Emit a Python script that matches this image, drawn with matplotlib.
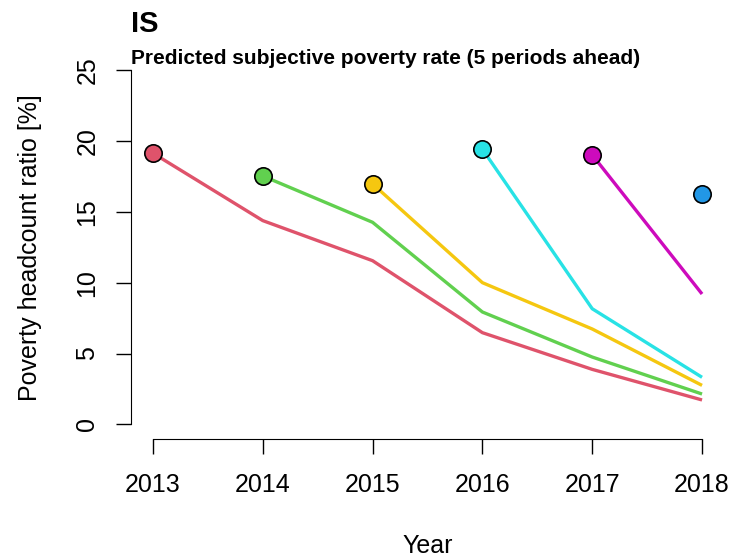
import matplotlib
matplotlib.use("Agg")
import matplotlib.pyplot as plt

plt.rcParams['font.family'] = ['Liberation Sans', 'DejaVu Sans']

# forecast vintages: start year, values for start..2018
start_years = [2013, 2014, 2015, 2016, 2017, 2018]
red = [19.14, 14.38, 11.55, 6.47, 3.88, 1.72]
green = [17.53, 14.26, 7.93, 4.75, 2.14]
yellow = [16.97, 10.0, 6.73, 2.75]
cyan = [19.42, 8.16, 3.32]
magenta = [19.02, 9.2]
blue = [16.29]
series = [red, green, yellow, cyan, magenta, blue]
colors = ['#DF536B', '#61D04F', '#F5C710', '#28E2E5', '#CD0BBC', '#2297E6']

years = [2013, 2014, 2015, 2016, 2017, 2018]
yticks = [0, 5, 10, 15, 20, 25]

fig = plt.figure(figsize=(7.31, 5.58), dpi=100)
ax = fig.add_axes([131 / 731, 1 - 438.5 / 558, 593 / 731, 382.5 / 558])

for start, vals, col in zip(start_years, series, colors):
    xs = list(range(start, start + len(vals)))
    ax.plot(xs, vals, color=col, lw=2.4, solid_capstyle='butt', zorder=2)
    ax.plot(xs[0], vals[0], 'o', ms=12.5, mfc=col, mec='black', mew=1.2, zorder=3)

ax.set_xlim(2012.8, 2018.2)
ax.set_ylim(-1, 26)
ax.set_xticks(years)
ax.set_yticks(yticks)
for s in ['top', 'right']:
    ax.spines[s].set_visible(False)
ax.spines['left'].set_bounds(0, 25)
ax.spines['bottom'].set_bounds(2013, 2018)
ax.tick_params(axis='both', length=10.8, width=1, labelsize=18)
ax.tick_params(axis='x', pad=14)
ax.tick_params(axis='y', pad=12, labelrotation=90)
for lab in ax.get_yticklabels():
    lab.set_va('center')

ax.set_xlabel('Year', fontsize=18, labelpad=27)
ax.set_ylabel('Poverty headcount ratio [%]', fontsize=18, labelpad=24)

fig.text(131 / 731, 1 - 23.5 / 558, 'IS', fontsize=21, fontweight='bold', ha='left', va='center')
fig.text(131 / 731, 1 - 58 / 558, 'Predicted subjective poverty rate (5 periods ahead)',
         fontsize=15, fontweight='bold', ha='left', va='center')

fig.savefig('out.png', dpi=100)
